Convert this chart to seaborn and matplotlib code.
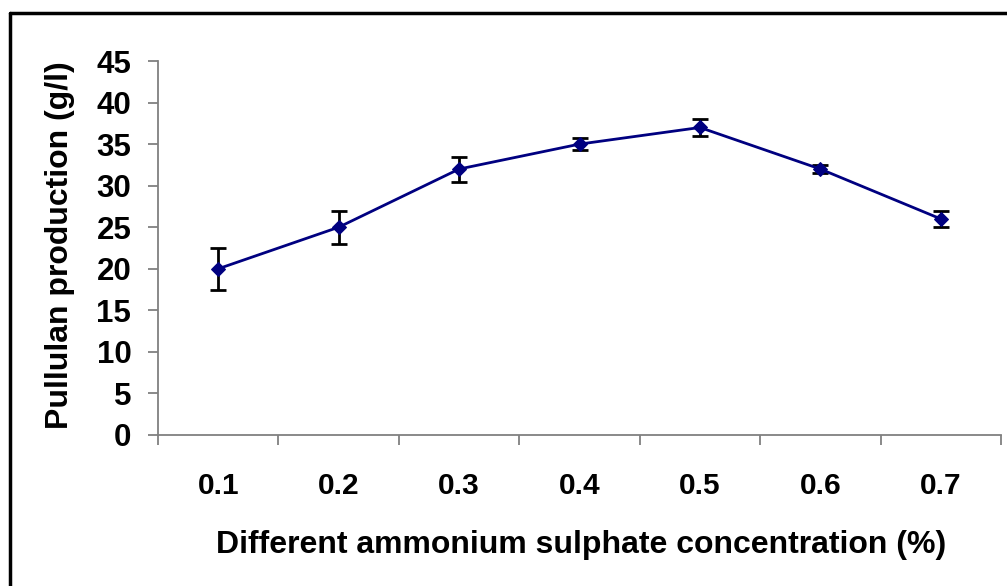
import matplotlib
matplotlib.use("Agg")
import matplotlib.pyplot as plt
import seaborn as sns
import pandas as pd
from matplotlib.lines import Line2D

categories = ["0.1", "0.2", "0.3", "0.4", "0.5", "0.6", "0.7"]
production = [20, 25, 32, 35, 37, 32, 26]
errors = [2.5, 2.0, 1.5, 0.7, 1.0, 0.5, 1.0]
yticks = [0, 5, 10, 15, 20, 25, 30, 35, 40, 45]

sns.set_style("white")
plt.rcParams['font.family'] = ['Liberation Sans', 'DejaVu Sans']
plt.rcParams['font.weight'] = 'bold'
plt.rcParams['text.color'] = 'black'
plt.rcParams['axes.labelcolor'] = 'black'
plt.rcParams['xtick.color'] = 'black'
plt.rcParams['ytick.color'] = 'black'

df = pd.DataFrame({"conc": categories, "prod": production})

fig = plt.figure(figsize=(10.07, 5.86), dpi=100)
ax = fig.add_axes([158/1007, 1 - 435/586, 843/1007, 374/586])

ax.errorbar(categories, production, yerr=errors, fmt='none', ecolor='black',
            elinewidth=2, capsize=5.5, capthick=2, zorder=2)
sns.lineplot(data=df, x="conc", y="prod", ax=ax, color='#000080', linewidth=2,
             marker='D', markersize=7.5, markeredgecolor='#000080', sort=False, zorder=3)

ax.set_xlim(-0.5, len(categories) - 0.5)
ax.set_ylim(0, 45)
ax.set_yticks(yticks)
ax.set_xticks([i - 0.5 for i in range(len(categories) + 1)], minor=False)
ax.set_xticklabels([])
ax.set_xticks(range(len(categories)), minor=True)
ax.set_xticklabels(categories, minor=True)
ax.tick_params(axis='x', which='major', direction='out', length=7.2, width=1.3, color='#808080', bottom=True)
ax.tick_params(axis='x', which='minor', length=0, pad=27, labelsize=21.5, labelcolor='black')
ax.tick_params(axis='y', direction='out', length=7.2, width=1.3, color='#808080', left=True,
               labelsize=22.5, pad=12, labelcolor='black')
for lab in ax.get_xticklabels(minor=True) + ax.get_yticklabels():
    lab.set_fontweight('bold')

for s in ['top', 'right']:
    ax.spines[s].set_visible(False)
for s in ['left', 'bottom']:
    ax.spines[s].set_color('#808080')
    ax.spines[s].set_linewidth(1.3)

ax.set_xlabel("Different ammonium sulphate concentration (%)", fontsize=23, fontweight='bold', va='center')
ax.set_ylabel("Pullulan production (g/l)", fontsize=23, fontweight='bold', va='center')
ax.xaxis.set_label_coords(0.502, (435 - 545) / 374)
ax.yaxis.set_label_coords((60 - 158) / 843, (435 - 245) / 374)

fx = 10 / 1007
fy = 1 - 13 / 586
fig.add_artist(Line2D([fx, fx], [-0.1, fy], transform=fig.transFigure, color='black', linewidth=2.5))
fig.add_artist(Line2D([fx, 1.1], [fy, fy], transform=fig.transFigure, color='black', linewidth=2.5))

fig.savefig("out.png", dpi=100)
